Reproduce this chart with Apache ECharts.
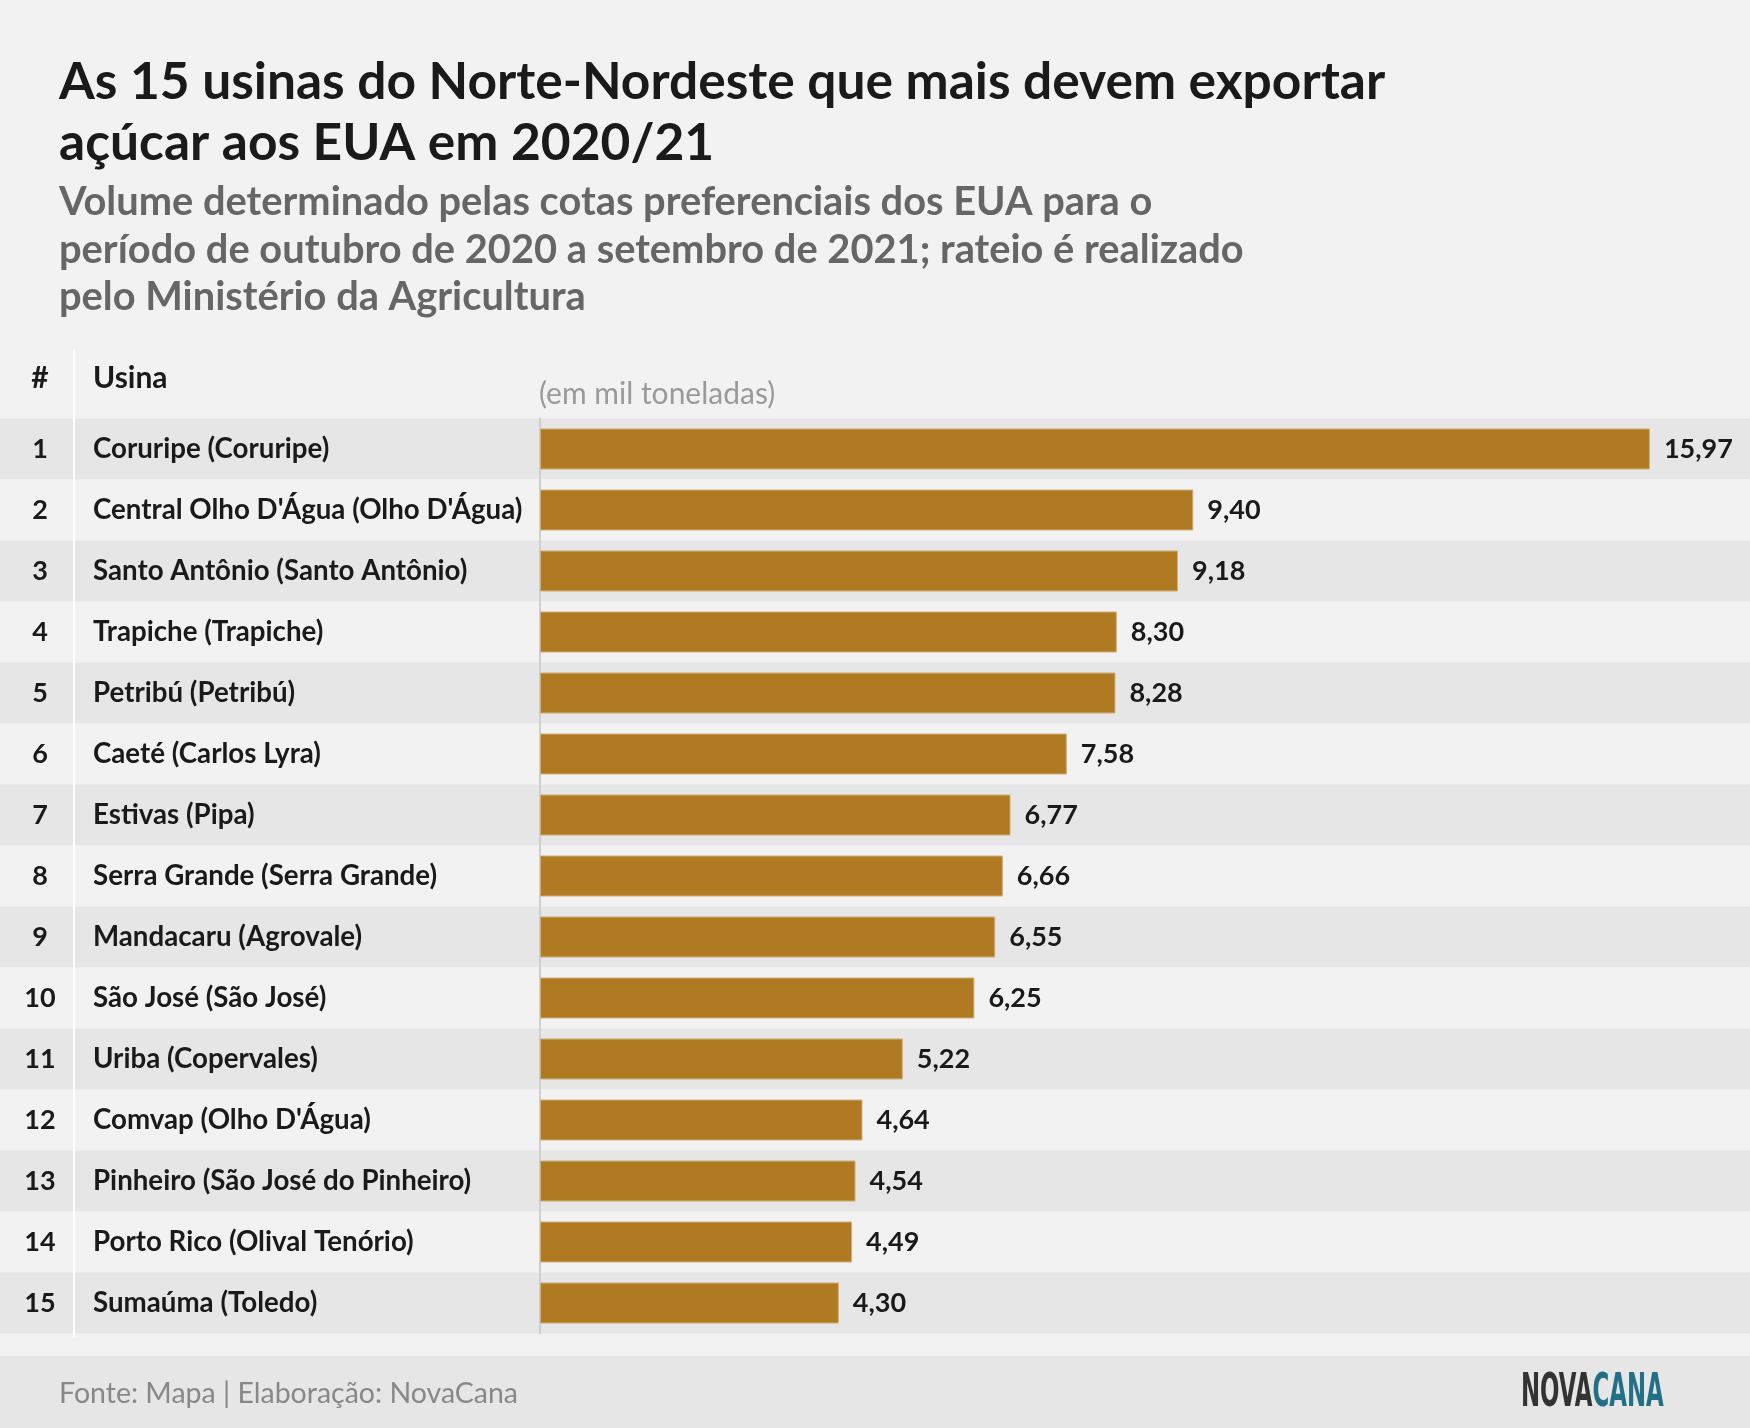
<!DOCTYPE html>
<html>
<head>
<meta charset="utf-8">
<script src="https://cdn.jsdelivr.net/npm/echarts@6/dist/echarts.min.js"></script>
<style>
  html, body { margin: 0; padding: 0; background: #f2f2f2; }
  #chart { width: 1750px; height: 1428px; }
</style>
</head>
<body>
<div id="chart"></div>
<script>
// dados (mil toneladas)
var ranks = ['1', '2', '3', '4', '5', '6', '7', '8', '9', '10', '11', '12', '13', '14', '15'];
var usinas = [
    'Coruripe (Coruripe)',
    "Central Olho D'Água (Olho D'Água)",
    'Santo Antônio (Santo Antônio)',
    'Trapiche (Trapiche)',
    'Petribú (Petribú)',
    'Caeté (Carlos Lyra)',
    'Estivas (Pipa)',
    'Serra Grande (Serra Grande)',
    'Mandacaru (Agrovale)',
    'São José (São José)',
    'Uriba (Copervales)',
    "Comvap (Olho D'Água)",
    'Pinheiro (São José do Pinheiro)',
    'Porto Rico (Olival Tenório)',
    'Sumaúma (Toledo)'
];
var volumes = [15.97, 9.40, 9.18, 8.30, 8.28, 7.58, 6.77, 6.66, 6.55, 6.25, 5.22, 4.64, 4.54, 4.49, 4.30];

var FONT = 'Lato, "Noto Sans", sans-serif';
var rowsTop = 418.5;
var rowsHeight = 61 * usinas.length;

function txt(x, y, text, size, weight, color, align) {
    return {
        type: 'text',
        x: x,
        y: y,
        silent: true,
        style: {
            text: text,
            fontFamily: FONT,
            fontSize: size,
            fontWeight: weight,
            fill: color,
            align: align || 'left',
            verticalAlign: 'middle'
        }
    };
}

var chart = echarts.init(document.getElementById('chart'), null, { renderer: 'canvas' });

var option = {
    backgroundColor: '#f2f2f2',
    animation: false,
    grid: [
        { left: 0, right: 0, top: rowsTop, height: rowsHeight },
        { left: 540, width: 16 * 69.5, top: rowsTop, height: rowsHeight }
    ],
    xAxis: [
        { gridIndex: 0, type: 'value', min: 0, max: 1, show: false },
        { gridIndex: 1, type: 'value', min: 0, max: 16, show: false }
    ],
    yAxis: [
        {
            gridIndex: 0,
            type: 'category',
            data: ranks,
            inverse: true,
            axisLine: { show: false },
            axisTick: { show: false },
            splitLine: { show: false },
            splitArea: {
                show: true,
                areaStyle: { color: ['#e6e6e6', '#f2f2f2'] }
            },
            axisLabel: {
                inside: true,
                margin: 40,
                align: 'center',
                fontFamily: FONT,
                fontSize: 27,
                fontWeight: 'bold',
                color: '#1a1a1a'
            }
        },
        {
            gridIndex: 1,
            type: 'category',
            data: usinas,
            inverse: true,
            axisLine: { show: true, lineStyle: { color: '#cfcfcf', width: 2 } },
            axisTick: { show: false },
            splitLine: { show: false },
            axisLabel: {
                align: 'left',
                margin: 447,
                fontFamily: FONT,
                fontSize: 27.7,
                fontWeight: 'bold',
                color: '#1a1a1a'
            }
        }
    ],
    series: [
        {
            type: 'bar',
            xAxisIndex: 1,
            yAxisIndex: 1,
            data: volumes,
            barWidth: 41,
            itemStyle: {
                color: '#b07a22',
                borderColor: '#cfae78',
                borderWidth: 1
            },
            label: {
                show: true,
                position: 'right',
                distance: 14,
                fontFamily: FONT,
                fontSize: 27,
                fontWeight: 'bold',
                color: '#1a1a1a',
                formatter: function (p) {
                    return p.value.toFixed(2).replace('.', ',');
                }
            }
        }
    ],
    graphic: [
        // faixa do rodapé
        {
            type: 'rect',
            silent: true,
            z: -1,
            shape: { x: 0, y: 1356, width: 1750, height: 72 },
            style: { fill: '#e6e6e6' }
        },
        // separador da coluna #
        {
            type: 'line',
            silent: true,
            z: 10,
            shape: { x1: 74, y1: 350, x2: 74, y2: 1337 },
            style: { stroke: '#ffffff', lineWidth: 2 }
        },
        txt(59, 82, 'As 15 usinas do Norte-Nordeste que mais devem exportar', 51.5, 'bold', '#1a1a1a'),
        txt(59, 143, 'açúcar aos EUA em 2020/21', 51.5, 'bold', '#1a1a1a'),
        txt(59, 202, 'Volume determinado pelas cotas preferenciais dos EUA para o', 39.8, 'bold', '#666666'),
        txt(59, 250, 'período de outubro de 2020 a setembro de 2021; rateio é realizado', 39.8, 'bold', '#666666'),
        txt(59, 297, 'pelo Ministério da Agricultura', 39.8, 'bold', '#666666'),
        txt(40, 378, '#', 30, 'bold', '#1a1a1a', 'center'),
        txt(93, 378, 'Usina', 30, 'bold', '#1a1a1a'),
        txt(539, 394, '(em mil toneladas)', 30, 'normal', '#9a9a9a'),
        txt(59, 1394, 'Fonte: Mapa | Elaboração: NovaCana', 28.5, 'normal', '#888888'),
        {
            type: 'text',
            x: 1521,
            y: 1394,
            scaleX: 0.54,
            silent: true,
            style: {
                text: '{a|NOVA}{b|CANA}',
                verticalAlign: 'middle',
                rich: {
                    a: { fontFamily: '"DejaVu Sans Condensed", "DejaVu Sans", sans-serif', fontWeight: 'bold', fontSize: 47, fill: '#333333' },
                    b: { fontFamily: '"DejaVu Sans Condensed", "DejaVu Sans", sans-serif', fontWeight: 'bold', fontSize: 47, fill: '#246f88' }
                }
            }
        }
    ]
};

chart.setOption(option);
</script>
</body>
</html>
